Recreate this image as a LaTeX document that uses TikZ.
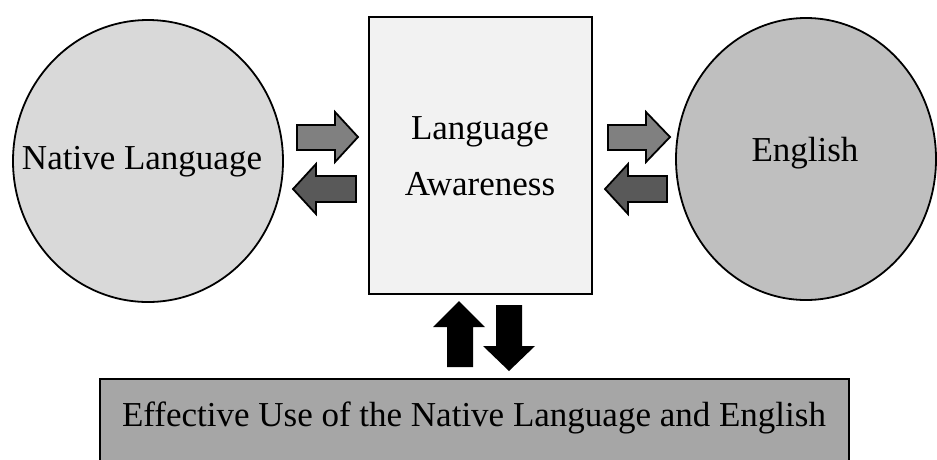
\documentclass[tikz,border=0pt]{standalone}
\usepackage{fontspec}
\setmainfont{Liberation Serif}
\definecolor{nlfill}{HTML}{D9D9D9}
\definecolor{enfill}{HTML}{BFBFBF}
\definecolor{lafill}{HTML}{F2F2F2}
\definecolor{effill}{HTML}{A6A6A6}
\definecolor{arrlight}{HTML}{808080}
\definecolor{arrdark}{HTML}{595959}
\begin{document}
\begin{tikzpicture}[x=1pt,y=-1pt,
  lbl/.style={font=\fontsize{35}{42}\selectfont, align=center, inner sep=0pt},
  shape line/.style={draw=black, line width=1.8pt},
  blockarrow/.style={draw=black, line width=1.8pt, line join=miter}]
\useasboundingbox (0,0) rectangle (937,459);
\clip (0,0) rectangle (937,459);
\fill[white] (0,0) rectangle (937,459);
% shapes
\draw[shape line, fill=nlfill] (148,161) ellipse [x radius=135, y radius=141];
\draw[shape line, fill=enfill] (806,159) ellipse [x radius=130, y radius=141];
\draw[shape line, fill=lafill] (369,17) rectangle (592,294);
\draw[shape line, fill=effill] (100,379) rectangle (849,470);
% texts
\node[lbl] (nl) at (142,162) {Native Language};
\node[lbl] (la) at (480,156) {Language\\[14pt]Awareness};
\node[lbl] (en) at (805,153) {English};
\node[lbl] (ef) at (474,418) {Effective Use of the Native Language and English};
% block arrows left pair
\draw[blockarrow, fill=arrlight] (297,125) -- (335,125) -- (335,112) -- (358,137) -- (335,162) -- (335,150) -- (297,150) -- cycle;
\draw[blockarrow, fill=arrdark] (356,176) -- (316,176) -- (316,164) -- (293,189) -- (316,214) -- (316,202) -- (356,202) -- cycle;
% block arrows right pair
\draw[blockarrow, fill=arrlight] (608,125) -- (646,125) -- (646,112) -- (670,137) -- (646,162) -- (646,150) -- (608,150) -- cycle;
\draw[blockarrow, fill=arrdark] (667,176) -- (628,176) -- (628,164) -- (605,189) -- (628,214) -- (628,202) -- (667,202) -- cycle;
% vertical black arrows
\fill[black] (447,367) -- (447,327) -- (433,327) -- (459,301) -- (485,327) -- (473,327) -- (473,367) -- cycle;
\fill[black] (496,305) -- (522,305) -- (522,346) -- (535,346) -- (509,371) -- (483,346) -- (496,346) -- cycle;
\end{tikzpicture}
\end{document}
